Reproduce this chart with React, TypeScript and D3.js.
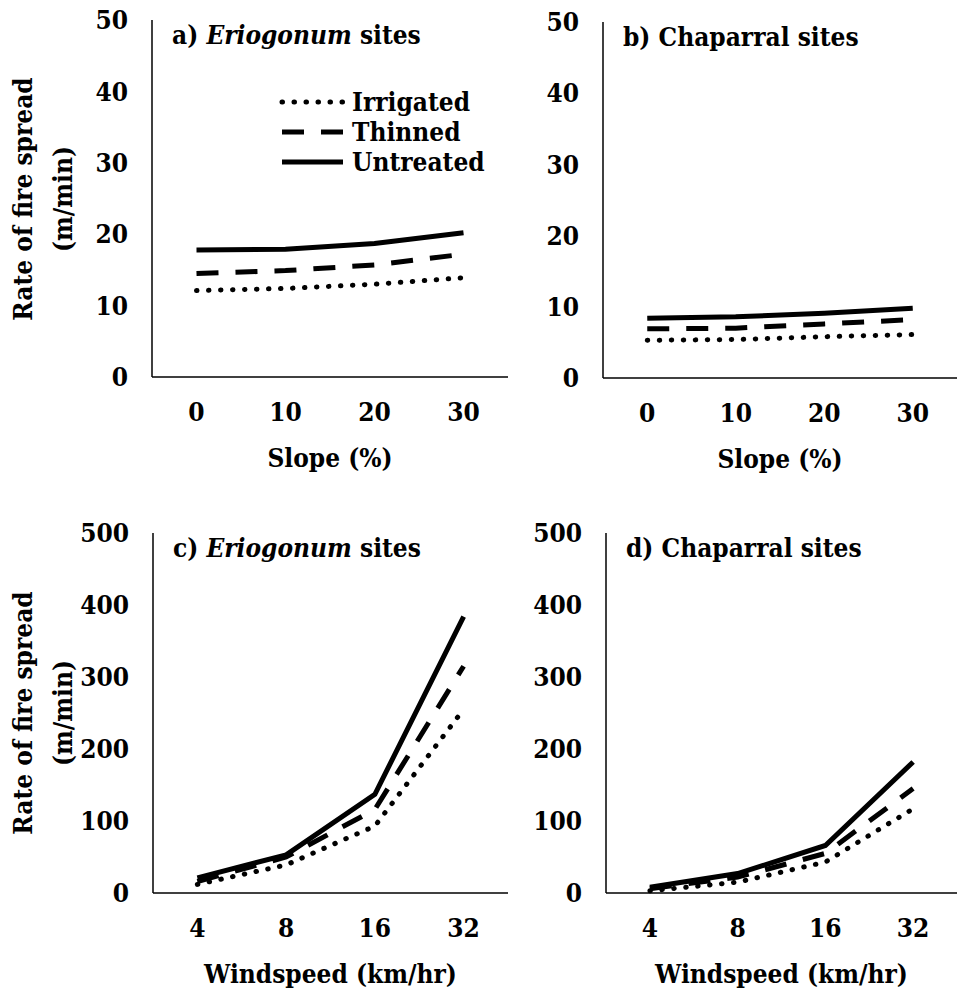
import React from 'react';
import * as d3 from 'd3';

const slopeCats = ['0', '10', '20', '30'];
const windCats = ['4', '8', '16', '32'];
const seriesNames = ['Irrigated', 'Thinned', 'Untreated'];

// a) Eriogonum, slope
const slopeErioIrrigated = [12.1, 12.4, 13.0, 13.9];
const slopeErioThinned = [14.5, 14.9, 15.7, 17.2];
const slopeErioUntreated = [17.8, 17.9, 18.7, 20.2];
// b) Chaparral, slope
const slopeChapIrrigated = [5.3, 5.4, 5.8, 6.1];
const slopeChapThinned = [6.9, 7.0, 7.6, 8.2];
const slopeChapUntreated = [8.4, 8.6, 9.1, 9.8];
// c) Eriogonum, wind
const windErioIrrigated = [12, 39, 93, 255];
const windErioThinned = [16, 50, 116, 315];
const windErioUntreated = [21, 53, 137, 384];
// d) Chaparral, wind
const windChapIrrigated = [3, 15, 43, 117];
const windChapThinned = [6, 22, 55, 145];
const windChapUntreated = [8, 27, 66, 182];

const slopeTicks = [0, 10, 20, 30, 40, 50];
const windTicks = [0, 100, 200, 300, 400, 500];

const FONT = "'DejaVu Serif Condensed', 'DejaVu Serif', serif";
const FS = 26;

const dashFor = (name: string) =>
  name === 'Irrigated' ? '0.5 11.5' : name === 'Thinned' ? '22 17' : null;

const Panel = (props: any) => {
  const { x0, x1, yTop, yBottom, cats, series, ticks, prefix, italic, rest, xTitle } = props;
  const x = d3.scalePoint().domain(cats).range([x0, x1]).padding(0.5);
  const y = d3.scaleLinear().domain([0, ticks[ticks.length - 1]]).range([yBottom, yTop]);
  const line = d3.line<number>().x((d, i) => x(cats[i]) as number).y(d => y(d));

  return (
    <g>
      <line x1={x0} x2={x0} y1={yTop} y2={yBottom} stroke="#000" strokeWidth={1.5} />
      <line x1={x0} x2={x1} y1={yBottom} y2={yBottom} stroke="#000" strokeWidth={1.5} />
      {ticks.map((t: number) => (
        <text key={t} x={x0 - 24} y={y(t)} dy="0.35em" textAnchor="end"
          style={{ fontFamily: FONT }} fontWeight="bold" fontSize={FS}>{t}</text>
      ))}
      {cats.map((c: string) => (
        <text key={c} x={x(c)} y={yBottom + 35} dy="0.35em" textAnchor="middle"
          style={{ fontFamily: FONT }} fontWeight="bold" fontSize={FS}>{c}</text>
      ))}
      <text x={(x0 + x1) / 2} y={yBottom + 81} dy="0.35em" textAnchor="middle"
        style={{ fontFamily: FONT }} fontWeight="bold" fontSize={FS}>{xTitle}</text>
      <text x={x0 + 20} y={yTop + 24} style={{ fontFamily: FONT }} fontWeight="bold" fontSize={FS}>
        {prefix}
        {italic ? <tspan fontStyle="italic">{italic}</tspan> : null}
        {rest}
      </text>
      {series.map((s: any) => (
        <path key={s.name} d={line(s.values) as string} fill="none" stroke="#000"
          strokeWidth={5} strokeDasharray={dashFor(s.name) || undefined}
          strokeLinecap={s.name === 'Irrigated' ? 'round' : 'butt'} />
      ))}
    </g>
  );
};

const YTitle = ({ cy }: { cy: number }) => (
  <g style={{ fontFamily: FONT }} fontWeight="bold" fontSize={FS} textAnchor="middle">
    <text transform={`translate(23,${cy}) rotate(-90)`} dy="0.35em">Rate of fire spread</text>
    <text transform={`translate(63,${cy}) rotate(-90)`} dy="0.35em">(m/min)</text>
  </g>
);

const App = () => {
  const mk = (a: number[], b: number[], c: number[]) =>
    [a, b, c].map((v, i) => ({ name: seriesNames[i], values: v }));

  const legendY = d3.scalePoint().domain(seriesNames).range([102, 162]);

  return (
    <svg width={957} height={994} style={{ position: 'absolute', left: 0, top: 0, background: '#fff' }}>
      <Panel x0={152} x1={508} yTop={20} yBottom={377} cats={slopeCats} ticks={slopeTicks}
        series={mk(slopeErioIrrigated, slopeErioThinned, slopeErioUntreated)}
        prefix="a) " italic="Eriogonum" rest=" sites" xTitle="Slope (%)" />
      <Panel x0={603} x1={957} yTop={22} yBottom={378} cats={slopeCats} ticks={slopeTicks}
        series={mk(slopeChapIrrigated, slopeChapThinned, slopeChapUntreated)}
        prefix="b) Chaparral sites" xTitle="Slope (%)" />
      <Panel x0={153} x1={508} yTop={533} yBottom={893} cats={windCats} ticks={windTicks}
        series={mk(windErioIrrigated, windErioThinned, windErioUntreated)}
        prefix="c) " italic="Eriogonum" rest=" sites" xTitle="Windspeed (km/hr)" />
      <Panel x0={606} x1={957} yTop={533} yBottom={893} cats={windCats} ticks={windTicks}
        series={mk(windChapIrrigated, windChapThinned, windChapUntreated)}
        prefix="d) Chaparral sites" xTitle="Windspeed (km/hr)" />
      <YTitle cy={199} />
      <YTitle cy={713} />
      {seriesNames.map(n => (
        <g key={n}>
          <line x1={282} x2={343} y1={legendY(n)} y2={legendY(n)} stroke="#000" strokeWidth={5}
            strokeDasharray={dashFor(n) || undefined} strokeLinecap={n === 'Irrigated' ? 'round' : 'butt'} />
          <text x={352} y={legendY(n)} dy="0.35em" style={{ fontFamily: FONT }} fontWeight="bold" fontSize={FS}>{n}</text>
        </g>
      ))}
    </svg>
  );
};

export default App;
